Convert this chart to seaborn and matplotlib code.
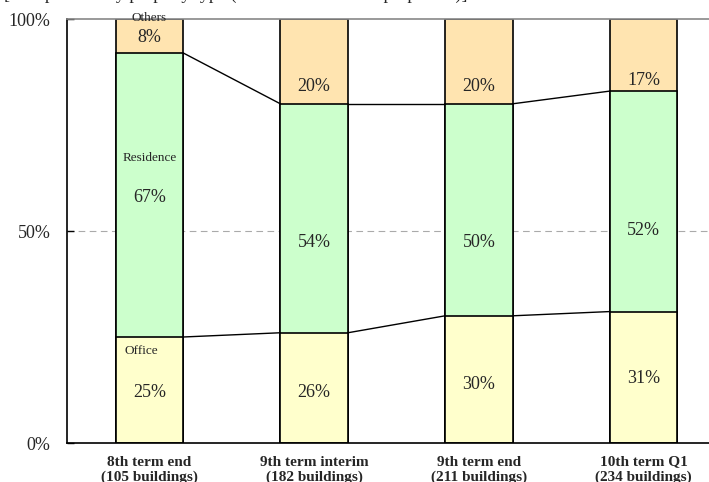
import numpy as np
import matplotlib
matplotlib.use("Agg")
import matplotlib.pyplot as plt
import seaborn as sns

# data
categories = ["8th term end\n(105 buildings)", "9th term interim\n(182 buildings)",
              "9th term end\n(211 buildings)", "10th term Q1\n(234 buildings)"]
office = [25, 26, 30, 31]
residence = [67, 54, 50, 52]
others = [8, 20, 20, 17]

# label positions (data units)
office_lab_y = [12.0, 12.0, 13.9, 15.3]
res_lab_y = [58.0, 47.2, 47.2, 50.2]
oth_lab_y = [95.7, 84.0, 84.0, 85.4]

c_office = "#FFFFCC"
c_res = "#CCFFCC"
c_oth = "#FFE4B0"

sns.set_style("white")
plt.rcParams["font.family"] = ["Liberation Serif", "DejaVu Serif"]

fig = plt.figure(figsize=(7.09, 4.82), dpi=100)
ax = fig.add_axes([67 / 709, 39 / 482, 659 / 709, 424 / 482])

w = 0.41
cum_res = np.array(office) + np.array(residence)
cum_all = cum_res + np.array(others)

sns.barplot(x=categories, y=cum_all, color=c_oth, edgecolor="black", linewidth=1.2,
            width=w, saturation=1, ax=ax)
sns.barplot(x=categories, y=cum_res, color=c_res, edgecolor="black", linewidth=1.2,
            width=w, saturation=1, ax=ax)
sns.barplot(x=categories, y=office, color=c_office, edgecolor="black", linewidth=1.2,
            width=w, saturation=1, ax=ax)

# connector lines between bars
for i in range(len(categories) - 1):
    ax.plot([i + w / 2, i + 1 - w / 2], [office[i], office[i + 1]], color="black", lw=1)
    ax.plot([i + w / 2, i + 1 - w / 2], [cum_res[i], cum_res[i + 1]], color="black", lw=1)

# value labels
for i in range(len(categories)):
    ax.text(i, office_lab_y[i], f"{office[i]}%", ha="center", va="center", fontsize=13)
    ax.text(i, res_lab_y[i], f"{residence[i]}%", ha="center", va="center", fontsize=13)
    ax.text(i, oth_lab_y[i], f"{others[i]}%", ha="center", va="center", fontsize=13)

ax.text(0, 100.2, "Others", ha="center", va="center", fontsize=9.5)
ax.text(0, 67.2, "Residence", ha="center", va="center", fontsize=9.5)
ax.text(-0.05, 21.7, "Office", ha="center", va="center", fontsize=9.5)

# gridline at 50%
ax.axhline(50, color="#aaaaaa", lw=0.8, ls=(0, (6, 4)), zorder=0)

ax.set_xlim(-0.5, 3.5)
ax.set_ylim(0, 100)
ax.set_yticks([0, 50, 100])
ax.set_yticklabels(["0%", "50%", "100%"], fontsize=13)
ax.set_xticks(range(len(categories)))
ax.set_xticklabels(categories, fontsize=11, fontweight="bold", linespacing=1.2)
ax.set_xticks([0.5, 1.5, 2.5], minor=True)
ax.tick_params(axis="x", which="major", length=0, pad=9)
ax.tick_params(axis="x", which="minor", direction="in", length=4, width=1, color="black")
ax.tick_params(axis="y", direction="in", length=5, width=1, color="black", pad=12, left=True)
ax.set_xlabel("")
ax.set_ylabel("")

for s in ["left", "bottom"]:
    ax.spines[s].set_color("black")
    ax.spines[s].set_linewidth(1.2)
ax.spines["top"].set_color("#888888")
ax.spines["top"].set_linewidth(1.2)
ax.spines["right"].set_visible(False)

# title mostly clipped off the top edge, as in the source image
fig.text(0.005, 1.0 + 1.5 / 482, "[Composition by property type (based on number of properties)]",
         fontsize=13, ha="left", va="baseline")

fig.savefig("out.png", dpi=100)
